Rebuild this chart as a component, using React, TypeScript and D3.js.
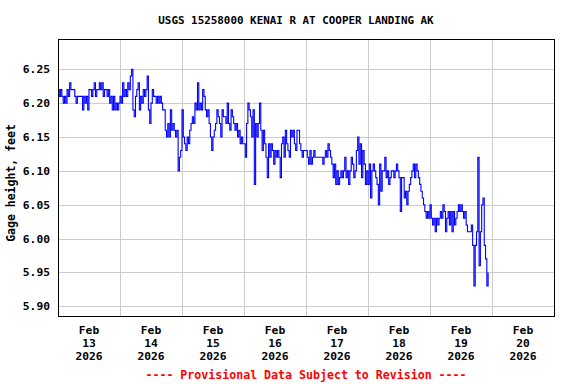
import React from "react";
import * as d3 from "d3";

const W = 576;
const H = 384;

const TITLE = "USGS 15258000 KENAI R AT COOPER LANDING AK";
const Y_LABEL = "Gage height, feet";
const FOOTER = "---- Provisional Data Subject to Revision ----";
const MONTH = "Feb";
const YEAR = "2026";
const DAY_LABELS = ["13", "14", "15", "16", "17", "18", "19", "20"];
const Y_TICKS = [5.9, 5.95, 6.0, 6.05, 6.1, 6.15, 6.2, 6.25];
const Y_DOMAIN = [5.8857, 6.2947];
const STEP_MINUTES = 30;

// Gage height (ft), every 30 minutes from midnight of each day
const feb13 = [6.22, 6.21, 6.22, 6.21, 6.20, 6.21, 6.20, 6.22, 6.21, 6.23, 6.22, 6.22, 6.22, 6.21, 6.20, 6.21, 6.21, 6.21, 6.21, 6.19, 6.21, 6.20, 6.21, 6.19, 6.22, 6.22, 6.21, 6.22, 6.23, 6.21, 6.22, 6.22, 6.23, 6.22, 6.23, 6.21, 6.22, 6.22, 6.21, 6.22, 6.20, 6.21, 6.19, 6.21, 6.19, 6.20, 6.19, 6.20];
const feb14 = [6.21, 6.20, 6.23, 6.21, 6.22, 6.21, 6.23, 6.22, 6.24, 6.25, 6.19, 6.18, 6.21, 6.22, 6.23, 6.19, 6.21, 6.20, 6.22, 6.21, 6.22, 6.24, 6.19, 6.17, 6.20, 6.22, 6.21, 6.21, 6.20, 6.21, 6.20, 6.21, 6.20, 6.19, 6.19, 6.16, 6.15, 6.17, 6.15, 6.19, 6.16, 6.17, 6.16, 6.15, 6.16, 6.10, 6.12, 6.13];
const feb15 = [6.19, 6.15, 6.14, 6.13, 6.15, 6.14, 6.16, 6.17, 6.18, 6.17, 6.20, 6.19, 6.23, 6.19, 6.20, 6.19, 6.22, 6.21, 6.19, 6.18, 6.19, 6.17, 6.15, 6.13, 6.15, 6.16, 6.17, 6.19, 6.18, 6.17, 6.15, 6.19, 6.18, 6.18, 6.17, 6.20, 6.17, 6.16, 6.19, 6.18, 6.17, 6.16, 6.17, 6.15, 6.16, 6.14, 6.15, 6.14];
const feb16 = [6.14, 6.12, 6.17, 6.20, 6.19, 6.18, 6.15, 6.19, 6.08, 6.17, 6.15, 6.17, 6.20, 6.16, 6.13, 6.16, 6.14, 6.12, 6.09, 6.14, 6.12, 6.14, 6.13, 6.11, 6.13, 6.12, 6.13, 6.12, 6.09, 6.14, 6.15, 6.12, 6.16, 6.14, 6.13, 6.12, 6.16, 6.15, 6.16, 6.14, 6.13, 6.16, 6.16, 6.14, 6.13, 6.12, 6.13, 6.13];
const feb17 = [6.13, 6.12, 6.11, 6.13, 6.11, 6.12, 6.13, 6.12, 6.12, 6.12, 6.12, 6.12, 6.12, 6.11, 6.12, 6.13, 6.12, 6.14, 6.13, 6.12, 6.11, 6.09, 6.11, 6.08, 6.10, 6.08, 6.09, 6.10, 6.09, 6.10, 6.12, 6.09, 6.10, 6.08, 6.10, 6.12, 6.11, 6.09, 6.10, 6.13, 6.15, 6.11, 6.14, 6.09, 6.13, 6.11, 6.08, 6.10];
const feb18 = [6.08, 6.11, 6.06, 6.10, 6.11, 6.10, 6.09, 6.08, 6.05, 6.11, 6.07, 6.10, 6.10, 6.12, 6.09, 6.10, 6.08, 6.09, 6.10, 6.10, 6.09, 6.10, 6.11, 6.10, 6.09, 6.04, 6.09, 6.09, 6.06, 6.07, 6.05, 6.07, 6.08, 6.09, 6.10, 6.11, 6.09, 6.11, 6.10, 6.09, 6.08, 6.07, 6.06, 6.05, 6.04, 6.03, 6.04, 6.03];
const feb19 = [6.05, 6.03, 6.02, 6.03, 6.01, 6.03, 6.02, 6.03, 6.04, 6.03, 6.05, 6.04, 6.01, 6.03, 6.04, 6.02, 6.04, 6.01, 6.04, 6.02, 6.03, 6.04, 6.05, 6.04, 6.05, 6.04, 6.03, 6.04, 6.02, 6.01, 6.01, 6.01, 6.02, 5.99, 5.93, 5.99, 6.01, 6.12, 5.96, 6.01, 6.05, 6.06, 5.99, 5.97, 5.93, 5.95];

const DAILY = [feb13, feb14, feb15, feb16, feb17, feb18, feb19];

const START = Date.UTC(2026, 1, 13);
const END = Date.UTC(2026, 1, 21);
const DAY_MS = 86400000;

const points: { t: number; v: number }[] = [];
DAILY.forEach((day, d) => {
  day.forEach((v, i) => {
    points.push({ t: START + d * DAY_MS + i * STEP_MINUTES * 60000, v });
  });
});

const LEFT = 58;
const RIGHT = 554;
const TOP = 39;
const BOTTOM = 316;

const FONT = "'DejaVu Sans Mono', 'Liberation Mono', monospace";

export default function App() {
  const x = d3.scaleUtc().domain([new Date(START), new Date(END)]).range([LEFT, RIGHT]);
  const y = d3.scaleLinear().domain(Y_DOMAIN).range([BOTTOM, TOP]);
  const line = d3
    .line<{ t: number; v: number }>()
    .x((p) => x(new Date(p.t)))
    .y((p) => y(p.v))
    .curve(d3.curveStepAfter);

  const gridDays = d3.range(1, 8).map((d) => START + d * DAY_MS);

  return (
    <svg
      width={W}
      height={H}
      style={{ position: "absolute", left: 0, top: 0, background: "#fff" }}
      fontFamily={FONT}
      fontWeight="bold"
    >
      <rect x={0} y={0} width={W} height={H} fill="#fff" />
      <text x={296} y={24} textAnchor="middle" fontSize={10.9} fill="#000">
        {TITLE}
      </text>
      <g shapeRendering="crispEdges" stroke="#cccccc" strokeWidth={1}>
        {Y_TICKS.map((t) => (
          <line key={t} x1={LEFT} x2={RIGHT} y1={Math.round(y(t)) + 0.5} y2={Math.round(y(t)) + 0.5} />
        ))}
        {gridDays.map((t) => (
          <line key={t} y1={TOP} y2={BOTTOM} x1={Math.round(x(new Date(t))) + 0.5} x2={Math.round(x(new Date(t))) + 0.5} />
        ))}
      </g>
      <path d={line(points) || ""} fill="none" stroke="#0000ff" strokeWidth={1.1} />
      <rect
        x={LEFT + 0.5}
        y={TOP + 0.5}
        width={RIGHT - LEFT}
        height={BOTTOM - TOP}
        fill="none"
        stroke="#000"
        strokeWidth={1}
        shapeRendering="crispEdges"
      />
      {Y_TICKS.map((t) => (
        <text key={t} x={50} y={y(t) + 4} textAnchor="end" fontSize={11.3} fill="#000">
          {t.toFixed(2)}
        </text>
      ))}
      {DAY_LABELS.map((d, i) => {
        const cx = x(new Date(START + i * DAY_MS + DAY_MS / 2));
        return (
          <g key={d} fontSize={11.3} fill="#000" textAnchor="middle">
            <text x={cx} y={334}>{MONTH}</text>
            <text x={cx} y={347}>{d}</text>
            <text x={cx} y={360}>{YEAR}</text>
          </g>
        );
      })}
      <text
        transform={`translate(15,183) rotate(-90)`}
        textAnchor="middle"
        fontSize={11.5}
        fill="#000"
      >
        {Y_LABEL}
      </text>
      <text x={306} y={379} textAnchor="middle" fontSize={11.6} fill="#ff0000">
        {FOOTER}
      </text>
    </svg>
  );
}
